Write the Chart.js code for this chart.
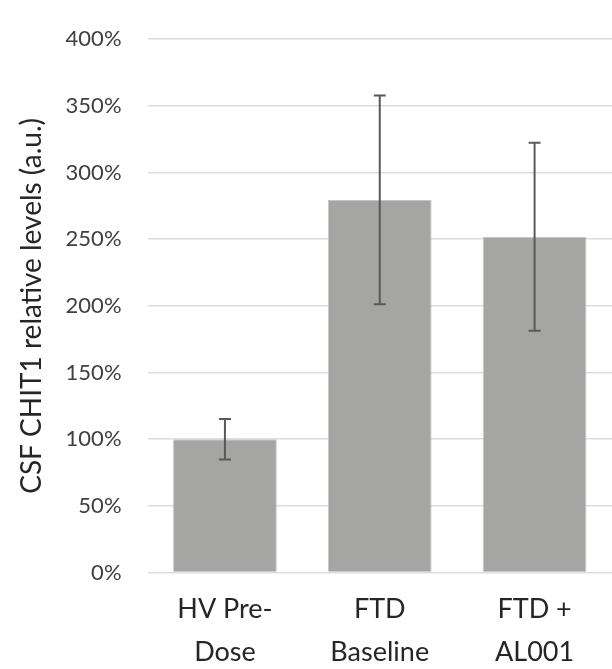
<!DOCTYPE html>
<html>
<head>
<meta charset="utf-8">
<script src="https://cdn.jsdelivr.net/npm/chart.js@4"></script>
<style>
  html, body { margin: 0; padding: 0; background: #fff; }
  #wrap { width: 612px; height: 669px; }
</style>
</head>
<body>
<div id="wrap"><canvas id="myChart" width="612" height="669"></canvas></div>
<script>
const categories = [['HV Pre-', 'Dose'], ['FTD', 'Baseline'], ['FTD +', 'AL001']];
const values = [100, 279.5, 251.8];
const errors = [15.2, 78.2, 70.5];
const yTicks = [0, 50, 100, 150, 200, 250, 300, 350, 400];

// error bars drawn through the y scale
const errorBars = {
    id: 'errorBars',
    afterDatasetsDraw(chart) {
        const ctx = chart.ctx;
        const meta = chart.getDatasetMeta(0);
        const y = chart.scales.y;
        ctx.save();
        ctx.strokeStyle = '#595959';
        ctx.lineWidth = 2;
        meta.data.forEach((bar, i) => {
            const top = y.getPixelForValue(values[i] + errors[i]);
            const bot = y.getPixelForValue(values[i] - errors[i]);
            ctx.beginPath();
            ctx.moveTo(bar.x, top);
            ctx.lineTo(bar.x, bot);
            ctx.moveTo(bar.x - 6, top);
            ctx.lineTo(bar.x + 6, top);
            ctx.moveTo(bar.x - 6, bot);
            ctx.lineTo(bar.x + 6, bot);
            ctx.stroke();
        });
        ctx.restore();
    }
};

const data = {
    labels: categories,
    datasets: [{
        data: values,
        backgroundColor: '#A5A6A3',
        borderColor: '#C4C6C3',
        borderWidth: 1,
        barPercentage: 0.67,
        categoryPercentage: 1
    }]
};

const config = {
    type: 'bar',
    data: data,
    plugins: [errorBars],
    options: {
        responsive: false,
        animation: false,
        layout: { padding: { top: 23, right: -20, left: 15, bottom: 0 } },
        plugins: { legend: { display: false }, tooltip: { enabled: false } },
        scales: {
            x: {
                grid: { display: false },
                border: { display: false },
                afterFit(axis) { axis.height -= 12; },
                ticks: {
                    color: '#262626',
                    padding: 7,
                    maxRotation: 0,
                    font: { family: 'Lato', size: 27, lineHeight: 1.6 }
                }
            },
            y: {
                min: 0,
                max: 400,
                afterBuildTicks(axis) {
                    axis.ticks = yTicks.map(v => ({ value: v }));
                },
                afterFit(axis) { axis.width -= 22; },
                grid: { color: '#D9DEE3', lineWidth: 1.5, drawTicks: false },
                border: { display: false },
                ticks: {
                    color: '#404040',
                    padding: 26,
                    font: { family: 'Lato', size: 22 },
                    callback: v => v + '%'
                },
                title: {
                    display: true,
                    text: 'CSF CHIT1 relative levels (a.u.)',
                    color: '#262626',
                    font: { family: 'Lato', size: 28 },
                    padding: { top: 0, bottom: 13 }
                }
            }
        }
    }
};

const myChart = new Chart(document.getElementById('myChart'), config);
</script>
</body>
</html>
